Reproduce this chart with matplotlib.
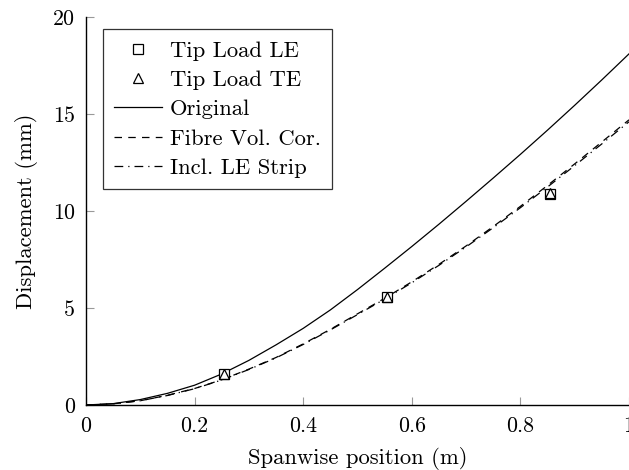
import matplotlib
matplotlib.use("Agg")
import matplotlib.pyplot as plt

plt.rcParams['font.family'] = ['cmr10', 'DejaVu Serif']
plt.rcParams['axes.formatter.use_mathtext'] = True
plt.rcParams['mathtext.fontset'] = 'cm'

# Data
span_x = [0.0, 0.05, 0.1, 0.15, 0.2, 0.25, 0.3, 0.35, 0.4, 0.45, 0.5,
          0.55, 0.6, 0.65, 0.7, 0.75, 0.8, 0.85, 0.9, 0.95, 1.0]
original = [0.0, 0.07, 0.28, 0.6, 1.02, 1.6, 2.3, 3.1, 3.95, 4.9, 5.95,
            7.05, 8.17, 9.32, 10.5, 11.7, 12.92, 14.17, 15.45, 16.76, 18.1]
fibre_vol = [0.0, 0.06, 0.22, 0.5, 0.85, 1.3, 1.85, 2.45, 3.15, 3.9, 4.7,
             5.5, 6.35, 7.25, 8.2, 9.2, 10.24, 11.32, 12.43, 13.56, 14.7]
le_strip = [0.0, 0.06, 0.22, 0.49, 0.84, 1.29, 1.83, 2.43, 3.12, 3.87, 4.66,
            5.46, 6.3, 7.2, 8.15, 9.14, 10.17, 11.24, 12.34, 13.46, 14.6]

tip_x = [0.255, 0.555, 0.855]
tip_le = [1.6, 5.55, 10.9]
tip_te = [1.62, 5.58, 10.95]

xticks = [0, 0.2, 0.4, 0.6, 0.8, 1.0]
xticklabels = ['0', '0.2', '0.4', '0.6', '0.8', '1']
yticks = [0, 5, 10, 15, 20]
yticklabels = ['0', '5', '10', '15', '20']

FS = 16.3
TFS = 15.8

fig = plt.figure(figsize=(6.29, 4.70), dpi=100)
ax = fig.add_axes([0.1367, 0.1383, 0.8633, 0.8255])

ax.plot(tip_x, tip_le, linestyle='none', marker='s', markersize=6.5,
        markerfacecolor='white', markeredgecolor='black', markeredgewidth=0.9,
        label='Tip Load LE', zorder=4)
ax.plot(tip_x, tip_te, linestyle='none', marker='^', markersize=7.5,
        markerfacecolor='none', markeredgecolor='black', markeredgewidth=0.9,
        label='Tip Load TE', zorder=5)
ax.plot(span_x, original, color='black', linewidth=0.9, linestyle='-',
        label='Original')
ax.plot(span_x, fibre_vol, color='black', linewidth=0.9,
        linestyle=(0, (6, 5)), label='Fibre Vol. Cor.')
ax.plot(span_x, le_strip, color='black', linewidth=0.9,
        linestyle=(0, (7, 4, 1, 4)), label='Incl. LE Strip')

ax.set_xlim(0, 1)
ax.set_ylim(0, 20)
ax.set_xticks(xticks)
ax.set_xticklabels(xticklabels)
ax.set_yticks(yticks)
ax.set_yticklabels(yticklabels)

for s in ['top', 'right']:
    ax.spines[s].set_visible(False)
for s in ['left', 'bottom']:
    ax.spines[s].set_linewidth(1.0)
    ax.spines[s].set_color('black')

ax.tick_params(direction='in', length=6, width=0.8, color='#999999',
               labelsize=TFS, pad=8)

ax.set_xlabel('Spanwise position (m)', fontsize=FS, labelpad=8)
ax.set_ylabel('Displacement (mm)', fontsize=FS, labelpad=11)

leg = ax.legend(loc='upper left', bbox_to_anchor=(0.031, 0.968),
                borderaxespad=0, fontsize=FS, frameon=True, fancybox=False,
                edgecolor='black', handlelength=2.1, handletextpad=0.35,
                labelspacing=0.42, borderpad=0.5, numpoints=1)
leg.get_frame().set_linewidth(0.9)

fig.savefig('out.png', dpi=100)
